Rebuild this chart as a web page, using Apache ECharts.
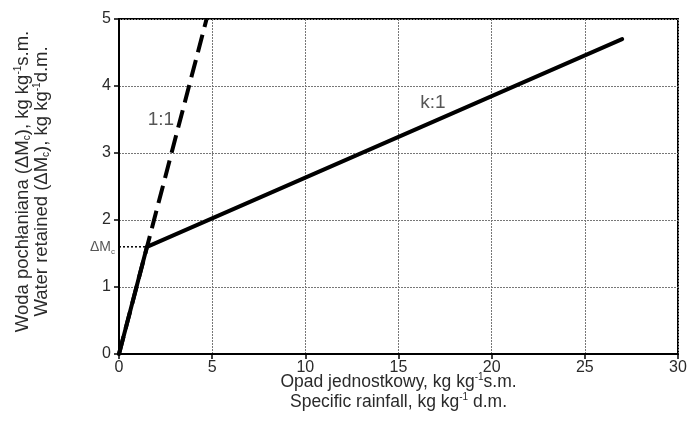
<!DOCTYPE html>
<html><head><meta charset="utf-8">
<script src="https://cdn.jsdelivr.net/npm/echarts@6/dist/echarts.min.js"></script>
<style>html,body{margin:0;padding:0;background:#fff}#c{width:691px;height:439px}</style>
</head><body><div id="c"></div>
<script>
// Data
var solidLine = [[0, 0], [1.5, 1.6], [27, 4.7]];      // k:1 retention curve
var dashedLine = [[0, 0], [4.7, 5.0]];                  // 1:1 line
var deltaMcLine = [[0, 1.6], [1.5, 1.6]];               // ΔMc dotted marker
var label11 = [[2.25, 3.49]];
var labelK1 = [[16.85, 3.75]];
var xTicks = [0, 5, 10, 15, 20, 25, 30];
var yTicks = [0, 1, 2, 3, 4, 5];

var F = '"Liberation Sans", Arial, sans-serif';
var TC = '#2a2a2a';
function richSet(size, lh) {
  return {
    n: {fontSize: size, fontFamily: F, color: TC, lineHeight: lh},
    s: {fontSize: Math.round(size * 0.55), fontFamily: F, color: TC, verticalAlign: 'bottom', lineHeight: lh, padding: [7, 0, 0, 0]},
    p: {fontSize: Math.round(size * 0.55), fontFamily: F, color: TC, verticalAlign: 'top', lineHeight: lh, padding: [0, 0, 7, 0]}
  };
}

var chart = echarts.init(document.getElementById('c'), null, {renderer: 'canvas'});
chart.setOption({
  animation: false,
  backgroundColor: '#fff',
  grid: {left: 119, right: 13, top: 19, bottom: 85, outerBoundsMode: 'none', containLabel: false,
         show: true, borderColor: '#000', borderWidth: 2, backgroundColor: 'transparent'},
  xAxis: {
    type: 'value', min: 0, max: 30, interval: 5,
    axisLine: {show: true, onZero: false, lineStyle: {color: '#000', width: 2}},
    axisTick: {show: true, length: 5, lineStyle: {color: '#000', width: 1.5}},
    axisLabel: {fontSize: 16, fontFamily: F, color: TC, margin: 6},
    splitLine: {show: true, lineStyle: {color: '#777', type: [2, 1], width: 1}},
    name: '{n|Opad jednostkowy, kg kg}{p|-1}{n|s.m.}\n{n|Specific rainfall, kg kg}{p|-1}{n| d.m.}',
    nameLocation: 'middle', nameGap: 18, nameMoveOverlap: false,
    nameTextStyle: {rich: richSet(17.5, 20), lineHeight: 20}
  },
  yAxis: {
    type: 'value', min: 0, max: 5, interval: 1,
    axisLine: {show: true, onZero: false, lineStyle: {color: '#000', width: 2}},
    axisTick: {show: true, length: 5, lineStyle: {color: '#000', width: 1.5}},
    axisLabel: {fontSize: 16, fontFamily: F, color: TC, margin: 8},
    splitLine: {show: true, lineStyle: {color: '#777', type: [2, 1], width: 1}},
    name: '{n|Woda pochłaniana (ΔM}{s|c}{n|), kg kg}{p|-1}{n|s.m.}\n{n|Water retained (ΔM}{s|c}{n|), kg kg}{p|-1}{n|d.m.}',
    nameLocation: 'middle', nameGap: 68, nameRotate: 90,
    nameTextStyle: {rich: richSet(18.5, 19), lineHeight: 19, padding: [0, 0, 0, 10]}
  },
  series: [
    {type: 'line', data: dashedLine, symbol: 'none', z: 2,
     lineStyle: {color: '#000', width: 4, type: [18, 8]}},
    {type: 'line', data: solidLine, symbol: 'none', z: 3,
     lineStyle: {color: '#000', width: 4, cap: 'round', join: 'round'}},
    {type: 'line', data: deltaMcLine, symbol: 'none', z: 1,
     lineStyle: {color: '#000', width: 1.5, type: [2, 2]},
     label: {show: false}},
    {type: 'scatter', data: [deltaMcLine[0]], symbolSize: 0, z: 4,
     label: {show: true, position: 'left', distance: 4,
       formatter: '{a|ΔM}{b|c}',
       rich: {a: {fontSize: 14, fontFamily: F, color: TC, lineHeight: 18},
              b: {fontSize: 8, fontFamily: F, color: TC, verticalAlign: 'bottom', lineHeight: 18, padding: [6, 0, 0, 0]}}}},
    {type: 'scatter', data: label11, symbolSize: 0, z: 4,
     label: {show: true, position: 'inside', formatter: '1:1', fontSize: 19, fontFamily: F, color: TC}},
    {type: 'scatter', data: labelK1, symbolSize: 0, z: 4,
     label: {show: true, position: 'inside', formatter: 'k:1', fontSize: 19, fontFamily: F, color: TC}}
  ]
});
</script>
</body></html>
